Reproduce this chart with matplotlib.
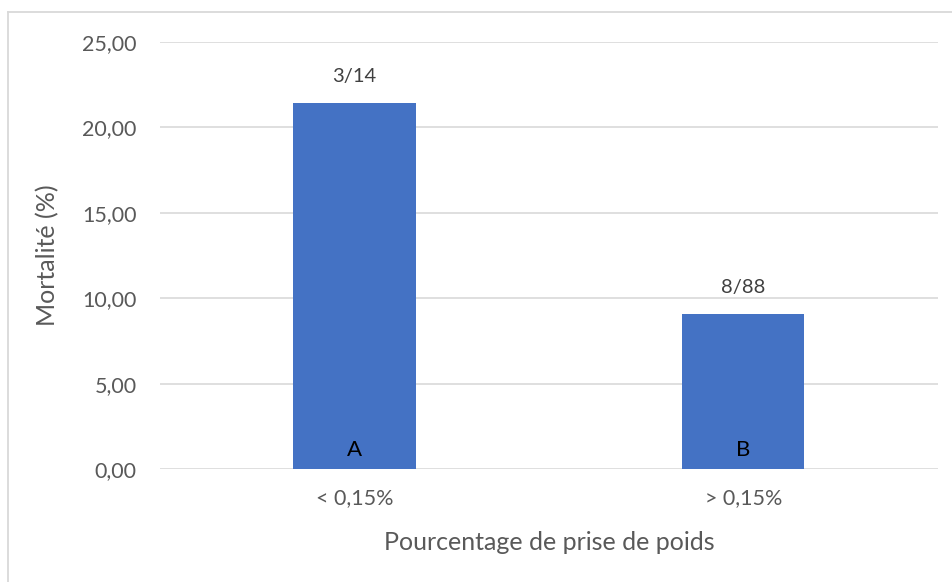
import matplotlib.pyplot as plt
from matplotlib.lines import Line2D

# données
categories = ["< 0,15%", "> 0,15%"]
deces = [3, 8]
effectifs = [14, 88]
mortalite = [100.0 * d / n for d, n in zip(deces, effectifs)]
etiquettes_haut = ["3/14", "8/88"]
etiquettes_bas = ["A", "B"]
y_ticks = [0, 5, 10, 15, 20, 25]

plt.rcParams['font.family'] = ['Lato', 'DejaVu Sans']

fig = plt.figure(figsize=(9.53, 5.82), dpi=100)
ax = fig.add_axes([0.168, 0.194, 0.816, 0.734])

x = list(range(len(categories)))
bars = ax.bar(x, mortalite, width=0.314, color="#4472C4", zorder=3)

for xi, val, top, bas in zip(x, mortalite, etiquettes_haut, etiquettes_bas):
    ax.annotate(top, (xi, val), xytext=(0, 19), textcoords="offset points",
                ha="center", va="center", fontsize=14.5, color="#404040")
    ax.annotate(bas, (xi, 0), xytext=(0, 14), textcoords="offset points",
                ha="center", va="center", fontsize=16, color="black", zorder=4)

ax.set_xlim(-0.5, 1.5)
ax.set_ylim(0, 25)
ax.set_yticks(y_ticks)
ax.set_yticklabels([f"{v:.2f}".replace(".", ",") for v in y_ticks])
ax.set_xticks(x)
ax.set_xticklabels(categories)
ax.tick_params(axis="both", length=0, labelsize=15.5, labelcolor="#595959")
ax.tick_params(axis="y", pad=17)
ax.tick_params(axis="x", pad=14)
ax.grid(axis="y", color="#d9d9d9", lw=1.2, zorder=0)
for s in ax.spines.values():
    s.set_visible(False)

ax.set_ylabel("Mortalité (%)", fontsize=18, color="#595959", labelpad=16)
ax.set_xlabel("Pourcentage de prise de poids", fontsize=18, color="#595959", labelpad=16)

# cadre du graphique (bords gauche et haut visibles)
fig.add_artist(Line2D([8 / 953, 8 / 953], [0, 1 - 12 / 582], color="#d9d9d9", lw=1.3))
fig.add_artist(Line2D([8 / 953, 1], [1 - 12 / 582, 1 - 12 / 582], color="#d9d9d9", lw=1.3))

fig.savefig("out.png", dpi=100)
